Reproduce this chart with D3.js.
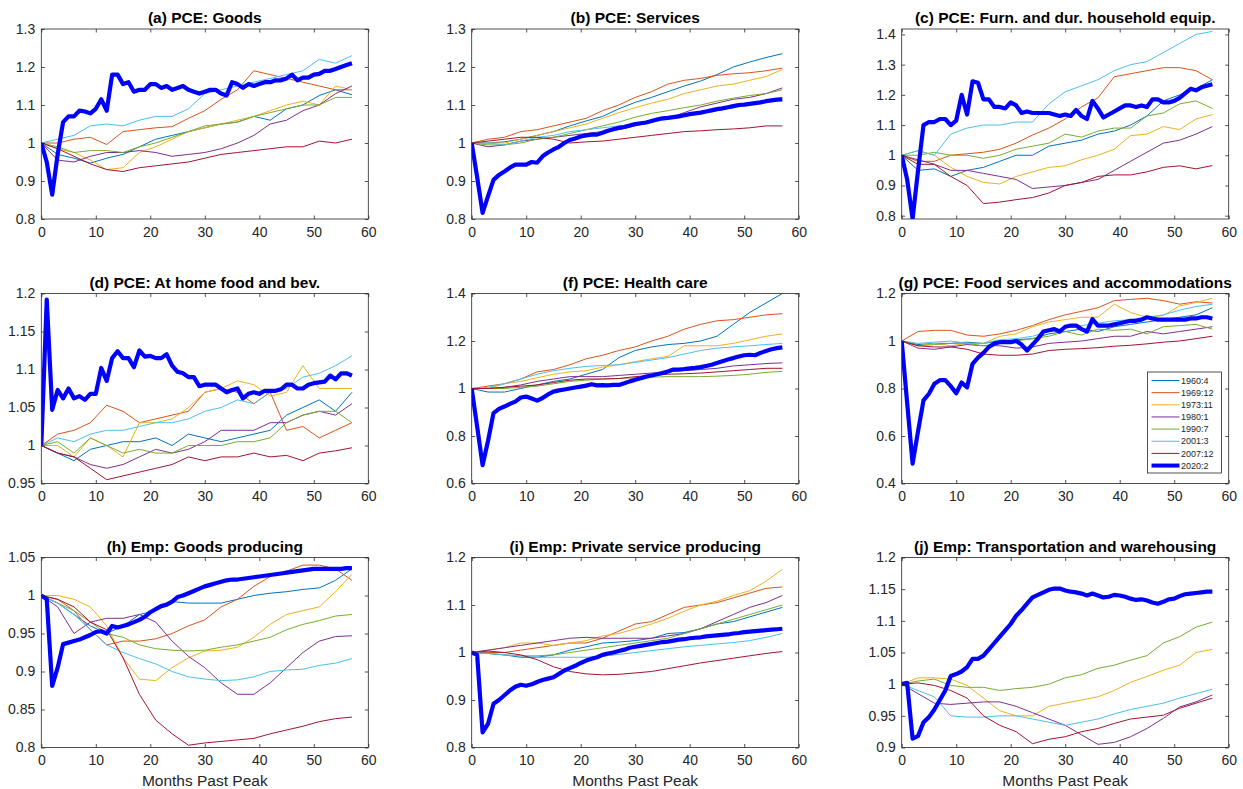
<!DOCTYPE html>
<html>
<head>
<meta charset="utf-8">
<script src="https://cdn.jsdelivr.net/npm/d3@7"></script>
<style>
  body { margin: 0; background: #fff; }
  svg text { font-family: "Liberation Sans", Arial, Helvetica, sans-serif; }
</style>
</head>
<body>
<svg id="chart" width="1243" height="789"></svg>
<script>
// x grids: 2020 episode read monthly, earlier episodes read every 3 months
const months2020 = [0,1,2,3,4,5,6,7,8,9,10,11,12,13,14,15,16,17,18,19,20,21,22,23,24,25,26,27,28,29,
  30,31,32,33,34,35,36,37,38,39,40,41,42,43,44,45,46,47,48,49,50,51,52,53,54,55,56,57];
const monthsPast = [0,3,6,9,12,15,18,21,24,27,30,33,36,39,42,45,48,51,54,57];

const peaks = ["1960:4","1969:12","1973:11","1980:1","1990:7","2001:3","2007:12","2020:2"];
const pastColors = ["#0072BD","#D95319","#EDB120","#7E2F8E","#77AC30","#4DBEEE","#A2142F"];
const nowColor = "#0000FF";

const titles = [
  "(a) PCE: Goods", "(b) PCE: Services", "(c) PCE: Furn. and dur. household equip.",
  "(d) PCE: At home food and bev.", "(f) PCE: Health care", "(g) PCE: Food services and accommodations",
  "(h) Emp: Goods producing", "(i) Emp: Private service producing", "(j) Emp: Transportation and warehousing"
];
const yDomains = [[0.8,1.3],[0.8,1.3],[0.789,1.418],[0.95,1.2],[0.6,1.4],[0.4,1.2],[0.8,1.05],[0.8,1.2],[0.9,1.2]];
const yTicks = [
  [0.8,0.9,1,1.1,1.2,1.3], [0.8,0.9,1,1.1,1.2,1.3], [0.8,0.9,1,1.1,1.2,1.3,1.4],
  [0.95,1,1.05,1.1,1.15,1.2], [0.6,0.8,1,1.2,1.4], [0.4,0.6,0.8,1,1.2],
  [0.8,0.85,0.9,0.95,1,1.05], [0.8,0.9,1,1.1,1.2], [0.9,0.95,1,1.05,1.1,1.15,1.2]
];
const xTicks = [0,10,20,30,40,50,60];

// (a) PCE: Goods — past episodes in peak order, then 2020
const goodsPast = [
  [1.0,0.97,0.96,0.947,0.96,0.97,0.99,1.01,1.02,1.03,1.04,1.05,1.055,1.07,1.06,1.09,1.1,1.125,1.14,1.127],
  [1.0,1.0,1.01,1.015,0.996,1.03,1.035,1.04,1.043,1.065,1.085,1.115,1.14,1.19,1.18,1.17,1.16,1.15,1.14,1.14],
  [1.0,0.985,0.975,0.955,0.93,0.935,0.975,0.99,1.01,1.03,1.04,1.05,1.06,1.07,1.085,1.1,1.11,1.1,1.15,1.14],
  [1.0,0.955,0.95,0.965,0.975,0.975,0.98,0.975,0.965,0.97,0.975,0.985,1.0,1.02,1.05,1.06,1.085,1.1,1.13,1.15],
  [1.0,0.99,0.975,0.98,0.98,0.975,0.99,1.0,1.015,1.03,1.045,1.05,1.055,1.07,1.08,1.09,1.1,1.1,1.12,1.12],
  [1.0,1.01,1.02,1.045,1.05,1.045,1.06,1.07,1.07,1.09,1.13,1.14,1.15,1.16,1.17,1.18,1.19,1.22,1.21,1.23],
  [1.0,0.985,0.965,0.945,0.93,0.925,0.935,0.94,0.945,0.95,0.96,0.97,0.975,0.98,0.985,0.99,0.99,1.005,1.0,1.01]
];
const goods2020 = [1.0,0.95,0.864,0.97,1.055,1.07,1.07,1.085,1.083,1.078,
  1.09,1.115,1.085,1.18,1.18,1.155,1.16,1.135,1.14,1.14,
  1.155,1.155,1.145,1.15,1.14,1.145,1.15,1.14,1.135,1.13,
  1.135,1.14,1.14,1.13,1.125,1.16,1.155,1.145,1.155,1.15,
  1.155,1.16,1.16,1.165,1.165,1.17,1.18,1.165,1.172,1.172,
  1.18,1.182,1.19,1.19,1.195,1.2,1.205,1.21];

// (b) PCE: Services
const servicesPast = [
  [1.0,1.0,1.003,1.01,1.02,1.03,1.045,1.058,1.07,1.09,1.107,1.12,1.135,1.15,1.163,1.18,1.2,1.213,1.225,1.235],
  [1.0,1.01,1.015,1.03,1.035,1.045,1.055,1.065,1.085,1.1,1.12,1.135,1.155,1.165,1.17,1.178,1.182,1.185,1.19,1.197],
  [1.0,1.0,1.0,1.01,1.02,1.03,1.04,1.05,1.065,1.08,1.093,1.105,1.115,1.13,1.14,1.15,1.155,1.165,1.175,1.193],
  [1.0,0.99,0.995,1.005,1.01,1.015,1.02,1.025,1.03,1.035,1.045,1.055,1.065,1.08,1.095,1.105,1.115,1.12,1.13,1.145],
  [1.0,0.995,0.995,1.0,1.01,1.015,1.025,1.035,1.045,1.055,1.068,1.078,1.085,1.093,1.1,1.11,1.118,1.125,1.13,1.14],
  [1.0,1.0,0.995,1.005,1.015,1.02,1.03,1.035,1.04,1.045,1.05,1.055,1.063,1.07,1.078,1.085,1.093,1.1,1.11,1.12],
  [1.0,1.005,1.01,1.015,1.015,1.01,1.0,1.003,1.005,1.01,1.015,1.02,1.025,1.03,1.032,1.035,1.037,1.04,1.045,1.045]
];
const services2020 = [1.0,0.91,0.816,0.86,0.903,0.916,0.925,0.935,0.943,0.943,
  0.943,0.95,0.948,0.965,0.975,0.983,0.99,1.0,1.008,1.012,
  1.017,1.02,1.022,1.022,1.027,1.032,1.036,1.04,1.042,1.046,
  1.05,1.052,1.054,1.058,1.062,1.065,1.066,1.068,1.07,1.073,
  1.076,1.078,1.08,1.083,1.086,1.089,1.091,1.094,1.097,1.1,
  1.101,1.103,1.105,1.107,1.11,1.112,1.114,1.115];

// (c) PCE: Furnishings and durable household equipment
const furnPast = [
  [1.0,0.95,0.955,0.93,0.95,0.96,0.98,1.0,1.0,1.03,1.04,1.05,1.07,1.08,1.1,1.13,1.18,1.2,1.22,1.25],
  [1.0,0.98,0.98,1.0,1.005,1.01,1.02,1.04,1.067,1.09,1.12,1.16,1.19,1.26,1.27,1.28,1.29,1.29,1.28,1.25],
  [1.0,1.015,1.0,0.96,0.93,0.91,0.905,0.93,0.945,0.96,0.965,0.985,1.0,1.02,1.065,1.07,1.095,1.085,1.12,1.135],
  [1.0,0.985,0.97,0.95,0.95,0.94,0.93,0.92,0.89,0.895,0.9,0.91,0.92,0.95,0.98,1.01,1.04,1.05,1.07,1.095],
  [1.0,1.0,1.01,1.0,1.0,0.99,1.0,1.02,1.03,1.04,1.07,1.06,1.08,1.09,1.09,1.13,1.14,1.17,1.18,1.155],
  [1.0,1.015,1.0,1.07,1.09,1.1,1.1,1.11,1.11,1.17,1.21,1.23,1.25,1.28,1.3,1.31,1.34,1.37,1.4,1.41],
  [1.0,0.97,0.97,0.93,0.9,0.84,0.845,0.853,0.86,0.875,0.9,0.91,0.93,0.935,0.935,0.945,0.96,0.965,0.955,0.966]
];
const furn2020 = [1.0,0.92,0.79,0.95,1.1,1.11,1.11,1.12,1.12,1.1,
  1.115,1.2,1.135,1.245,1.24,1.185,1.185,1.16,1.16,1.155,
  1.175,1.165,1.14,1.145,1.14,1.14,1.14,1.14,1.135,1.13,
  1.135,1.13,1.15,1.13,1.12,1.18,1.155,1.125,1.135,1.145,
  1.155,1.165,1.165,1.16,1.165,1.16,1.185,1.185,1.175,1.175,
  1.18,1.19,1.205,1.22,1.215,1.225,1.23,1.235];

// (d) PCE: At home food and beverages
const foodHomePast = [
  [1.0,0.99,0.98,0.995,1.0,1.005,1.005,1.01,1.0,1.015,1.01,1.005,1.01,1.015,1.02,1.04,1.05,1.06,1.045,1.07],
  [1.0,1.015,1.02,1.03,1.053,1.045,1.03,1.035,1.04,1.045,1.07,1.075,1.07,1.055,1.07,1.02,1.025,1.01,1.02,1.03],
  [1.0,1.0,0.985,1.01,1.0,0.985,1.03,1.03,1.035,1.05,1.07,1.075,1.085,1.08,1.065,1.07,1.105,1.075,1.075,1.075],
  [1.0,0.99,0.985,0.975,0.97,0.975,0.985,0.995,0.99,0.995,1.005,1.02,1.02,1.02,1.03,1.03,1.04,1.045,1.04,1.055],
  [1.0,1.005,0.99,1.01,1.0,0.99,0.995,0.99,0.99,1.0,1.0,1.0,1.005,1.005,1.01,1.03,1.04,1.045,1.045,1.03],
  [1.0,1.01,1.005,1.015,1.02,1.02,1.025,1.03,1.03,1.035,1.045,1.05,1.06,1.055,1.07,1.075,1.09,1.095,1.105,1.118],
  [1.0,0.99,0.985,0.97,0.955,0.96,0.965,0.97,0.975,0.985,0.98,0.985,0.985,0.99,0.985,0.987,0.98,0.99,0.993,0.997]
];
const foodHome2020 = [1.0,1.192,1.047,1.073,1.062,1.075,1.062,1.065,1.06,1.068,
  1.068,1.102,1.085,1.115,1.124,1.115,1.115,1.103,1.125,1.117,
  1.118,1.115,1.115,1.12,1.105,1.097,1.095,1.09,1.09,1.078,
  1.08,1.08,1.08,1.075,1.07,1.073,1.075,1.062,1.068,1.07,
  1.068,1.072,1.072,1.072,1.074,1.08,1.08,1.075,1.075,1.08,
  1.082,1.083,1.084,1.092,1.087,1.095,1.095,1.092];

// (f) PCE: Health care
const healthPast = [
  [1.0,0.985,0.985,1.0,1.015,1.03,1.04,1.06,1.08,1.13,1.16,1.175,1.185,1.19,1.2,1.22,1.27,1.32,1.36,1.4],
  [1.0,1.01,1.02,1.04,1.07,1.08,1.1,1.125,1.14,1.16,1.175,1.2,1.22,1.25,1.27,1.285,1.29,1.3,1.31,1.315],
  [1.0,1.0,1.02,1.03,1.045,1.06,1.07,1.075,1.09,1.1,1.113,1.125,1.135,1.18,1.18,1.18,1.19,1.205,1.22,1.23],
  [1.0,1.0,1.005,1.015,1.03,1.04,1.05,1.05,1.05,1.055,1.06,1.065,1.07,1.075,1.08,1.085,1.095,1.1,1.105,1.108],
  [1.0,1.0,1.0,1.005,1.01,1.02,1.03,1.035,1.04,1.042,1.045,1.048,1.05,1.05,1.05,1.052,1.055,1.06,1.068,1.072],
  [1.0,1.005,1.02,1.04,1.06,1.075,1.085,1.093,1.097,1.1,1.11,1.12,1.13,1.145,1.16,1.17,1.175,1.18,1.185,1.19],
  [1.0,1.0,1.005,1.01,1.015,1.025,1.035,1.04,1.04,1.042,1.05,1.055,1.06,1.062,1.065,1.07,1.075,1.08,1.085,1.085]
];
const health2020 = [1.0,0.84,0.677,0.78,0.896,0.914,0.924,0.935,0.945,0.962,
  0.966,0.958,0.949,0.96,0.975,0.987,0.992,0.996,1.0,1.004,
  1.008,1.012,1.018,1.013,1.014,1.013,1.015,1.015,1.022,1.03,
  1.037,1.043,1.05,1.055,1.06,1.065,1.072,1.08,1.08,1.082,
  1.085,1.087,1.09,1.095,1.1,1.107,1.115,1.122,1.128,1.135,
  1.14,1.142,1.14,1.15,1.158,1.165,1.17,1.173];

// (g) PCE: Food services and accommodations
const foodServPast = [
  [1.0,0.985,0.99,0.99,0.995,0.99,1.0,1.005,1.01,1.03,1.04,1.05,1.04,1.06,1.07,1.08,1.09,1.1,1.11,1.14],
  [1.0,1.04,1.045,1.045,1.025,1.02,1.03,1.045,1.065,1.09,1.11,1.125,1.14,1.17,1.175,1.18,1.17,1.155,1.165,1.16],
  [1.0,0.98,0.99,0.98,0.99,0.99,1.02,1.03,1.06,1.08,1.09,1.1,1.1,1.155,1.12,1.1,1.107,1.148,1.162,1.18],
  [1.0,0.97,0.965,0.975,0.985,0.98,0.98,0.97,0.975,0.99,0.995,1.0,1.01,1.02,1.02,1.04,1.03,1.04,1.05,1.06],
  [1.0,0.98,0.985,0.99,0.99,0.98,0.99,1.0,1.01,1.02,1.04,1.025,1.05,1.045,1.05,1.03,1.06,1.065,1.07,1.05],
  [1.0,0.99,0.995,1.0,0.99,0.99,1.005,1.01,1.02,1.04,1.055,1.065,1.075,1.085,1.09,1.1,1.11,1.13,1.145,1.155],
  [1.0,0.98,0.975,0.975,0.965,0.945,0.94,0.94,0.945,0.96,0.965,0.968,0.972,0.978,0.982,0.988,0.995,1.0,1.01,1.02]
];
const foodServ2020 = [1.0,0.74,0.484,0.62,0.75,0.778,0.82,0.835,0.835,0.81,
  0.78,0.825,0.805,0.904,0.93,0.95,0.975,0.99,0.995,0.995,
  0.995,1.0,0.985,0.96,0.985,1.01,1.04,1.045,1.05,1.04,
  1.06,1.065,1.065,1.05,1.04,1.092,1.065,1.065,1.065,1.07,
  1.075,1.08,1.085,1.085,1.09,1.1,1.095,1.09,1.09,1.09,
  1.09,1.09,1.09,1.095,1.095,1.1,1.1,1.095];

// (h) Emp: Goods producing
const goodsEmpPast = [
  [1.0,0.99,0.975,0.96,0.95,0.96,0.975,0.98,0.992,0.99,0.99,0.99,0.995,1.0,1.003,1.005,1.008,1.01,1.02,1.035],
  [1.0,0.995,0.98,0.955,0.935,0.94,0.94,0.943,0.95,0.96,0.968,0.985,0.995,1.012,1.025,1.032,1.04,1.04,1.035,1.02],
  [1.0,1.0,0.995,0.985,0.96,0.918,0.89,0.888,0.905,0.918,0.927,0.928,0.932,0.945,0.962,0.975,0.98,0.985,1.005,1.028],
  [1.0,0.985,0.95,0.965,0.97,0.97,0.975,0.965,0.94,0.92,0.905,0.885,0.87,0.87,0.885,0.905,0.925,0.94,0.946,0.947],
  [1.0,0.99,0.98,0.965,0.95,0.945,0.935,0.93,0.928,0.927,0.928,0.932,0.935,0.94,0.945,0.955,0.962,0.967,0.973,0.975],
  [1.0,0.99,0.975,0.955,0.935,0.925,0.917,0.91,0.9,0.893,0.89,0.888,0.889,0.893,0.9,0.902,0.903,0.908,0.911,0.917],
  [1.0,0.995,0.985,0.965,0.955,0.918,0.87,0.836,0.818,0.803,0.806,0.808,0.81,0.812,0.818,0.823,0.828,0.834,0.838,0.84]
];
const goodsEmp2020 = [1.0,0.995,0.881,0.905,0.936,0.938,0.94,0.942,0.945,0.948,
  0.952,0.953,0.95,0.96,0.958,0.96,0.962,0.965,0.968,0.972,
  0.978,0.982,0.986,0.988,0.992,0.998,1.0,1.003,1.006,1.009,
  1.012,1.014,1.016,1.018,1.02,1.021,1.021,1.022,1.023,1.024,
  1.025,1.026,1.027,1.028,1.029,1.03,1.031,1.032,1.033,1.034,
  1.035,1.035,1.035,1.035,1.035,1.035,1.036,1.036];

// (i) Emp: Private service producing
const servEmpPast = [
  [1.0,0.998,0.995,0.99,0.99,0.995,1.005,1.012,1.02,1.022,1.025,1.03,1.04,1.042,1.05,1.06,1.065,1.075,1.085,1.095],
  [1.0,1.0,1.0,1.005,1.01,1.015,1.02,1.02,1.03,1.045,1.06,1.065,1.08,1.095,1.1,1.105,1.115,1.125,1.135,1.138],
  [1.0,1.005,1.01,1.02,1.02,1.015,1.02,1.025,1.035,1.04,1.05,1.06,1.072,1.087,1.1,1.108,1.12,1.13,1.15,1.175],
  [1.0,1.005,1.01,1.015,1.02,1.025,1.03,1.032,1.03,1.03,1.03,1.03,1.035,1.04,1.05,1.065,1.08,1.095,1.105,1.12],
  [1.0,0.998,0.995,0.993,0.993,0.995,1.0,1.005,1.01,1.015,1.02,1.025,1.03,1.04,1.05,1.06,1.07,1.08,1.09,1.1],
  [1.0,0.998,0.995,0.993,0.99,0.99,0.99,0.99,0.992,0.996,1.0,1.004,1.008,1.012,1.015,1.018,1.021,1.025,1.032,1.04],
  [1.0,1.003,1.0,0.995,0.985,0.97,0.96,0.955,0.953,0.954,0.957,0.96,0.966,0.972,0.978,0.983,0.988,0.993,0.998,1.002]
];
const servEmp2020 = [1.0,0.995,0.832,0.85,0.892,0.9,0.91,0.92,0.928,0.932,
  0.93,0.933,0.938,0.942,0.945,0.948,0.955,0.962,0.967,0.972,
  0.978,0.983,0.987,0.99,0.995,0.998,1.0,1.003,1.006,1.01,
  1.012,1.014,1.016,1.018,1.02,1.022,1.023,1.025,1.027,1.028,
  1.03,1.031,1.032,1.034,1.035,1.036,1.037,1.038,1.04,1.041,
  1.043,1.044,1.045,1.046,1.047,1.048,1.049,1.05];

// (j) Emp: Transportation and warehousing (no 1960:4 or 1969:12 data)
const transportPast = [
  null,
  null,
  [1.0,1.01,1.01,1.008,0.998,0.978,0.958,0.95,0.95,0.965,0.97,0.975,0.98,0.99,1.003,1.012,1.022,1.03,1.05,1.055],
  [1.0,0.985,0.97,0.968,0.97,0.972,0.972,0.965,0.955,0.945,0.935,0.92,0.905,0.908,0.917,0.93,0.946,0.964,0.972,0.983],
  [1.0,1.005,1.008,0.998,0.995,0.995,0.99,0.993,0.995,1.0,1.01,1.015,1.025,1.03,1.038,1.045,1.065,1.075,1.09,1.098],
  [1.0,0.99,0.98,0.95,0.948,0.948,0.95,0.95,0.945,0.94,0.935,0.94,0.945,0.953,0.96,0.965,0.97,0.978,0.985,0.992],
  [1.0,1.002,0.998,0.99,0.978,0.95,0.935,0.925,0.906,0.913,0.917,0.925,0.93,0.938,0.945,0.948,0.951,0.962,0.97,0.978]
];
const transport2020 = [1.0,1.002,0.914,0.918,0.94,0.948,0.96,0.975,0.99,1.013,
  1.016,1.02,1.027,1.04,1.04,1.045,1.055,1.065,1.075,1.085,
  1.095,1.108,1.117,1.127,1.137,1.141,1.145,1.149,1.151,1.151,
  1.148,1.146,1.145,1.143,1.14,1.143,1.14,1.137,1.138,1.141,
  1.14,1.138,1.135,1.133,1.134,1.132,1.129,1.127,1.13,1.134,
  1.135,1.139,1.142,1.143,1.144,1.145,1.146,1.146];

const pastSeries = [goodsPast, servicesPast, furnPast, foodHomePast, healthPast, foodServPast, goodsEmpPast, servEmpPast, transportPast];
const nowSeries = [goods2020, services2020, furn2020, foodHome2020, health2020, foodServ2020, goodsEmp2020, servEmp2020, transport2020];

// layout
const colX = [41.3, 471.7, 901.7];
const rowY = [29, 293.5, 557.5];
const W = 327, H = 190;
const axisColor = "#262626";

const svg = d3.select("#chart");
const fmt = d => String(+d.toFixed(2));

titles.forEach((title, i) => {
    const left = colX[i % 3], top = rowY[Math.floor(i / 3)];
    const g = svg.append("g").attr("transform", `translate(${left},${top})`);

    const x = d3.scaleLinear().domain([0, 60]).range([0, W]);
    const y = d3.scaleLinear().domain(yDomains[i]).range([H, 0]);

    g.append("clipPath").attr("id", "clip" + i)
        .append("rect").attr("width", W).attr("height", H);

    const lines = g.append("g").attr("clip-path", `url(#clip${i})`);

    const line = d3.line()
        .x(d => x(d[0]))
        .y(d => y(d[1]));

    // earlier recessions, thin lines
    pastSeries[i].forEach((vals, k) => {
        if (!vals) return;
        lines.append("path")
            .datum(monthsPast.map((m, j) => [m, vals[j]]))
            .attr("fill", "none")
            .attr("stroke", pastColors[k])
            .attr("stroke-width", 1)
            .attr("stroke-linejoin", "round")
            .attr("d", line);
    });

    // 2020 episode, thick
    lines.append("path")
        .datum(months2020.map((m, j) => [m, nowSeries[i][j]]))
        .attr("fill", "none")
        .attr("stroke", nowColor)
        .attr("stroke-width", 4.2)
        .attr("stroke-linejoin", "round")
        .attr("d", line);

    // axes, ticks pointing inward on all four sides
    const xb = g.append("g").attr("transform", `translate(0,${H})`)
        .call(d3.axisBottom(x).tickValues(xTicks).tickSizeInner(-3.5).tickSizeOuter(0).tickPadding(8));
    const yl = g.append("g")
        .call(d3.axisLeft(y).tickValues(yTicks[i]).tickFormat(fmt).tickSizeInner(-3.5).tickSizeOuter(0).tickPadding(6));
    const xt = g.append("g")
        .call(d3.axisTop(x).tickValues(xTicks).tickFormat("").tickSizeInner(-3.5).tickSizeOuter(0));
    const yr = g.append("g").attr("transform", `translate(${W},0)`)
        .call(d3.axisRight(y).tickValues(yTicks[i]).tickFormat("").tickSizeInner(-3.5).tickSizeOuter(0));

    [xb, yl, xt, yr].forEach(a => {
        a.select(".domain").remove();
        a.selectAll("line").attr("stroke", axisColor).attr("stroke-width", 0.8);
        a.selectAll("text").attr("fill", axisColor).style("font-size", "14px");
    });

    g.append("rect")
        .attr("width", W).attr("height", H)
        .attr("fill", "none")
        .attr("stroke", axisColor)
        .attr("stroke-width", 0.8);

    g.append("text")
        .attr("x", W / 2).attr("y", -6)
        .attr("text-anchor", "middle")
        .style("font-size", "15.5px")
        .style("font-weight", "bold")
        .attr("fill", "#000")
        .text(title);

    if (i >= 6) {
        g.append("text")
            .attr("x", W / 2).attr("y", H + 38)
            .attr("text-anchor", "middle")
            .style("font-size", "15.5px")
            .attr("fill", axisColor)
            .text("Months Past Peak");
    }
});

// legend inside panel (g)
const leg = svg.append("g").attr("transform", "translate(1147.5,372)");
leg.append("rect")
    .attr("width", 74).attr("height", 101)
    .attr("fill", "#fff")
    .attr("stroke", axisColor)
    .attr("stroke-width", 0.8);

peaks.forEach((p, k) => {
    const yy = 8.5 + k * 12.15;
    leg.append("line")
        .attr("x1", 4).attr("x2", 32)
        .attr("y1", yy).attr("y2", yy)
        .attr("stroke", k < 7 ? pastColors[k] : nowColor)
        .attr("stroke-width", k < 7 ? 1 : 4);
    leg.append("text")
        .attr("x", 33.5).attr("y", yy)
        .attr("dy", "0.35em")
        .style("font-size", "9px")
        .attr("fill", axisColor)
        .text(p);
});
</script>
</body>
</html>
